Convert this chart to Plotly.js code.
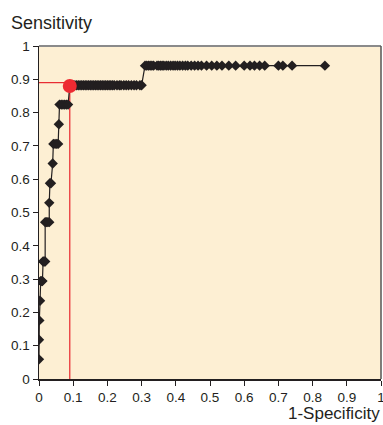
<!DOCTYPE html>
<html><head><meta charset="utf-8">
<script src="https://cdn.plot.ly/plotly-3.0.1.min.js"></script>
<style>html,body{margin:0;padding:0;background:#fff}#c{width:383px;height:425px}</style>
</head><body><div id="c"></div>
<script>
// ROC curve: sensitivity levels and the 1-specificity values observed at each level
const sensLevels = [0.059,0.118,0.176,0.235,0.294,0.353,0.471,0.529,0.588,0.647,0.706,0.765,0.824,0.882,0.941];
const fprAtLevel = [
  [0.000],
  [0.000],
  [0.001],
  [0.003],
  [0.005,0.008,0.010],
  [0.012,0.015,0.018],
  [0.018,0.022,0.026,0.030],
  [0.030],
  [0.032,0.035],
  [0.040],
  [0.042,0.047,0.052,0.056],
  [0.058],
  [0.060,0.065,0.070,0.075,0.080,0.085],
  [0.090,0.095,0.100,0.105,0.110,0.115,0.120,0.125,0.130,0.135,0.140,0.145,0.150,0.155,0.160,0.165,0.170,0.175,0.180,0.185,0.190,0.195,0.200,0.205,0.210,0.215,0.220,0.228,0.235,0.240,0.248,0.255,0.262,0.270,0.278,0.285,0.295,0.300],
  [0.310,0.315,0.320,0.325,0.330,0.335,0.345,0.350,0.355,0.360,0.365,0.372,0.378,0.385,0.392,0.398,0.405,0.412,0.420,0.428,0.435,0.445,0.455,0.465,0.475,0.490,0.505,0.520,0.535,0.555,0.575,0.600,0.617,0.630,0.645,0.660,0.700,0.713,0.740,0.836]
];
// optimal cut-off point and its guide lines
const cutX = [0.09];
const cutY = [0.88];
const guideLevel = 0.89;
const ticks = [0,0.1,0.2,0.3,0.4,0.5,0.6,0.7,0.8,0.9,1];
const tickText = ['0','0.1','0.2','0.3','0.4','0.5','0.6','0.7','0.8','0.9','1'];

const fpr = [], tpr = [];
sensLevels.forEach((s, i) => fprAtLevel[i].forEach(x => { fpr.push(x); tpr.push(s); }));

const traces = [
  {x:[0,cutX[0]], y:[guideLevel,guideLevel], mode:'lines', line:{color:'#e8262d',width:1.2}, hoverinfo:'skip'},
  {x:[cutX[0],cutX[0]], y:[0,guideLevel], mode:'lines', line:{color:'#e8262d',width:1.2}, hoverinfo:'skip'},
  {x:fpr, y:tpr, mode:'lines+markers', line:{color:'#231f20',width:1.2},
   marker:{symbol:'diamond',size:8,color:'#231f20'}},
  {x:cutX, y:cutY, mode:'markers', marker:{color:'#ed2a32',size:14}}
];
const layout = {
  width:383, height:425,
  margin:{l:39,r:2,t:46,b:46},
  paper_bgcolor:'#ffffff', plot_bgcolor:'#fdefd3',
  showlegend:false,
  font:{family:'Liberation Sans, Arial, sans-serif', size:13.5, color:'#231f20'},
  xaxis:{range:[0,1], tickvals:ticks, ticktext:tickText, ticks:'outside', ticklen:5, tickcolor:'#231f20',
    ticklabeloverflow:'allow', showgrid:false, zeroline:false, showline:true, linecolor:'#231f20', linewidth:1.5, fixedrange:true},
  yaxis:{range:[0,1], tickvals:ticks, ticktext:tickText, ticks:'outside', ticklen:5, tickcolor:'#231f20',
    ticklabeloverflow:'allow', showgrid:false, zeroline:false, showline:true, linecolor:'#231f20', linewidth:1.5, fixedrange:true},
  shapes:[
    {type:'line', xref:'paper', yref:'paper', x0:0, x1:1, y0:1, y1:1, line:{color:'#8a8a8a',width:2}},
    {type:'line', xref:'paper', yref:'paper', x0:1, x1:1, y0:0, y1:1, line:{color:'#555555',width:1.5}}
  ],
  annotations:[
    {text:'Sensitivity', xref:'paper', yref:'paper', x:-0.088, y:1.105, xanchor:'left', yanchor:'top', showarrow:false, font:{size:18}},
    {text:'1-Specificity', xref:'paper', yref:'paper', x:1.0, y:-0.072, xanchor:'right', yanchor:'top', showarrow:false, borderpad:0, font:{size:17}}
  ]
};
Plotly.newPlot('c', traces, layout, {staticPlot:true, displayModeBar:false});
</script></body></html>
